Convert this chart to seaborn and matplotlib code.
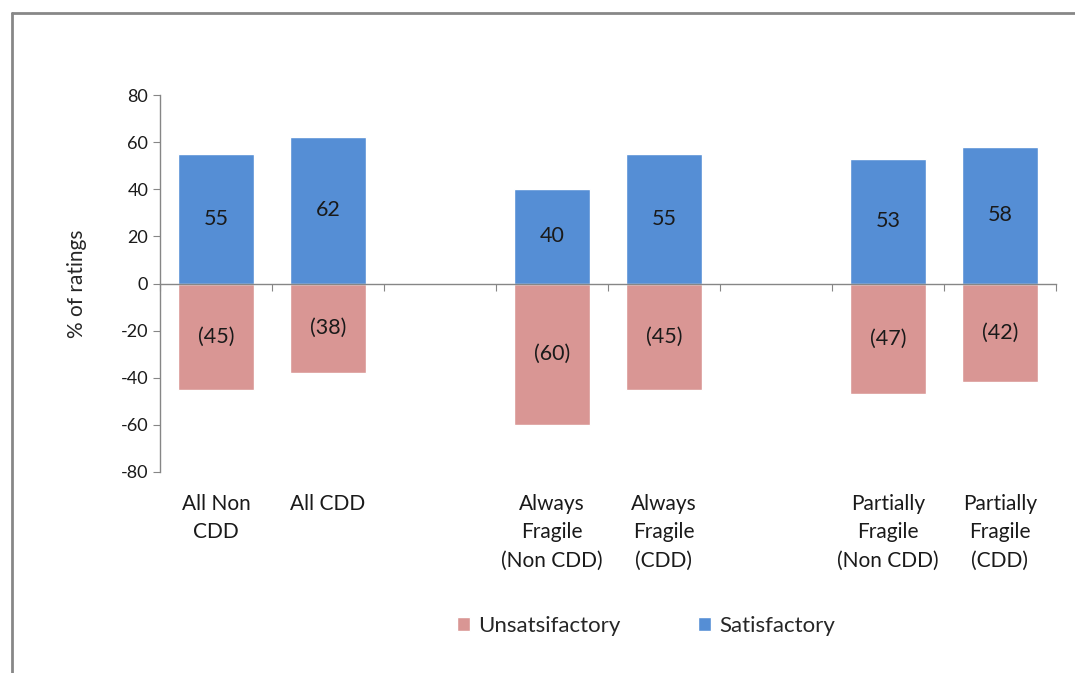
import numpy as np
import pandas as pd
import matplotlib
matplotlib.use("Agg")
import matplotlib.pyplot as plt
import seaborn as sns
from matplotlib.patches import Patch

categories = ["All Non\nCDD", "All CDD", "",
              "Always\nFragile\n(Non CDD)", "Always\nFragile\n(CDD)", " ",
              "Partially\nFragile\n(Non CDD)", "Partially\nFragile\n(CDD)"]
bar_categories = [categories[i] for i in (0, 1, 3, 4, 6, 7)]
satisfactory = [55, 62, 40, 55, 53, 58]
unsatisfactory = [-45, -38, -60, -45, -47, -42]
series_names = ["Unsatsifactory", "Satisfactory"]
colors = {"Unsatsifactory": "#D99694", "Satisfactory": "#558ED5"}
y_ticks = [-80, -60, -40, -20, 0, 20, 40, 60, 80]

df = pd.DataFrame({
    "category": bar_categories * 2,
    "rating": ["Satisfactory"] * 6 + ["Unsatsifactory"] * 6,
    "value": satisfactory + unsatisfactory,
})

sns.set_style("white")
plt.rcParams["font.family"] = ["Lato", "DejaVu Sans"]

fig = plt.figure(figsize=(10.75, 6.73), dpi=100)
ax = fig.add_axes([160 / 1075, 1 - 472 / 673, 896 / 1075, 377 / 673])

sns.barplot(data=df, x="category", y="value", hue="rating", order=categories,
            hue_order=series_names, palette=colors, dodge=False, width=0.67,
            saturation=1, legend=False, ax=ax)

# value labels in the middle of each bar
for cont in ax.containers:
    for bar in cont:
        h = bar.get_height()
        if np.isnan(h):
            continue
        txt = f"{abs(h):.0f}" if h > 0 else f"({abs(h):.0f})"
        ax.text(bar.get_x() + bar.get_width() / 2, h / 2, txt,
                ha="center", va="center", fontsize=15.5, color="#1a1a1a")

ax.set_ylim(-80, 80)
ax.set_yticks(y_ticks)
ax.set_yticklabels([str(t) for t in y_ticks], fontsize=13)
ax.set_xlim(-0.5, len(categories) - 0.5)

# category axis drawn at zero, labels below the plot
ax.spines["bottom"].set_position(("data", 0))
ax.set_xticks(np.arange(-0.5, len(categories), 1.0))
ax.set_xticklabels([])
for i, lab in enumerate(categories):
    ax.text(i, -0.058, lab, transform=ax.get_xaxis_transform(), ha="center",
            va="top", fontsize=15, linespacing=1.52, color="#1a1a1a")

for side in ["top", "right"]:
    ax.spines[side].set_visible(False)
for side in ["left", "bottom"]:
    ax.spines[side].set_color("#868686")
    ax.spines[side].set_linewidth(1.0)
ax.tick_params(axis="both", direction="out", length=5, color="#868686",
               left=True, bottom=True, labelcolor="#1a1a1a")
ax.set_xlabel("")
ax.set_ylabel("% of ratings", fontsize=15)
ax.yaxis.set_label_coords(-0.082, 0.5)

handles = [Patch(facecolor=colors[n], label=n) for n in series_names]
fig.legend(handles=handles, loc="center", bbox_to_anchor=(646 / 1075, 1 - 626 / 673),
           ncol=2, frameon=False, fontsize=16, handlelength=0.6, handleheight=0.6,
           handletextpad=0.35, columnspacing=3.5)

# chart frame
fig.add_artist(plt.Line2D([12 / 1075, 12 / 1075], [0, 1 - 13 / 673],
                          transform=fig.transFigure, color="#878787", lw=2))
fig.add_artist(plt.Line2D([12 / 1075, 1], [1 - 13 / 673, 1 - 13 / 673],
                          transform=fig.transFigure, color="#878787", lw=2))

fig.savefig("out.png", dpi=100)
